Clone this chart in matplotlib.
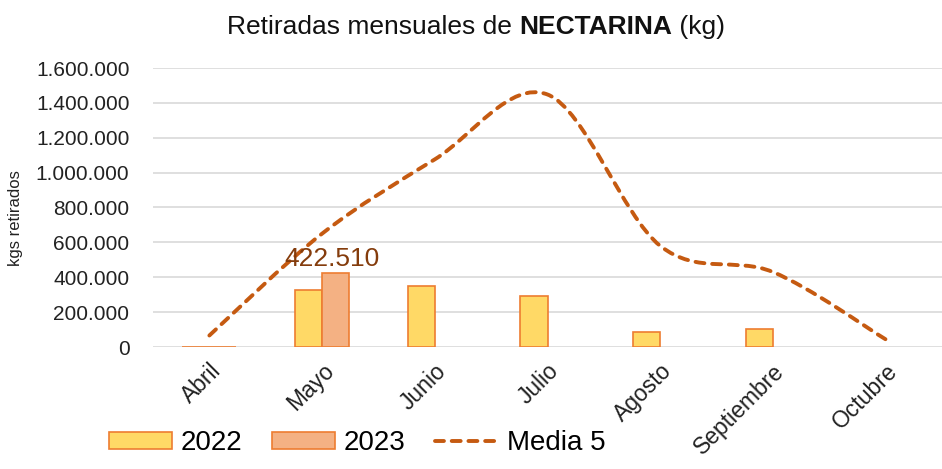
import numpy as np
import matplotlib
matplotlib.use("Agg")
import matplotlib.pyplot as plt
from matplotlib.path import Path
from matplotlib.patches import PathPatch
from matplotlib.lines import Line2D
from matplotlib.patches import Patch
from matplotlib.ticker import FuncFormatter

categories = ["Abril", "Mayo", "Junio", "Julio", "Agosto", "Septiembre", "Octubre"]
v2022 = [2500, 328000, 351000, 293000, 86000, 104000, np.nan]
v2023 = [2000, 422510, np.nan, np.nan, np.nan, np.nan, np.nan]
media5 = [66000, 650000, 1076000, 1448000, 580000, 430000, 44000]
yticks = [0, 200000, 400000, 600000, 800000, 1000000, 1200000, 1400000, 1600000]

C2022_FILL = "#FFD966"
C2023_FILL = "#F4B183"
EDGE = "#ED7D31"
LINE = "#C55A11"
GRID = "#D9D9D9"
LABEL = "#843C0C"
FAM = ["Liberation Sans", "DejaVu Sans"]

fig = plt.figure(figsize=(9.42, 4.69), dpi=100)
ax = fig.add_axes([153 / 942, 1 - 347 / 469, 1 - 153 / 942, (347 - 68) / 469])

x = np.arange(len(categories))
w = 0.24
ax.bar(x - w / 2, v2022, width=w, color=C2022_FILL, edgecolor=EDGE, linewidth=1.2, zorder=3)
ax.bar(x + w / 2, v2023, width=w, color=C2023_FILL, edgecolor=EDGE, linewidth=1.2, zorder=3)

# smoothed line (Bezier through data points, Excel-like)
pts = np.column_stack([x, media5]).astype(float)
n = len(pts)
verts = [tuple(pts[0])]
codes = [Path.MOVETO]
for i in range(n - 1):
    p0 = pts[max(i - 1, 0)]
    p1 = pts[i]
    p2 = pts[i + 1]
    p3 = pts[min(i + 2, n - 1)]
    c1 = p1 + (p2 - p0) / 6
    c2 = p2 - (p3 - p1) / 6
    verts += [tuple(c1), tuple(c2), tuple(p2)]
    codes += [Path.CURVE4] * 3
path = Path(verts, codes)
lw = 2.8
DASH = (0, (2.3, 2.0))
patch = PathPatch(path, fill=False, edgecolor=LINE, linewidth=lw, linestyle=DASH,
                  capstyle="round", zorder=4)
ax.add_patch(patch)

# data label
ax.text(1 + w / 2 - 0.03, 422510 + 12000, "422.510", ha="center", va="bottom", color=LABEL,
        fontsize=19, family=FAM, zorder=5)

ax.set_xlim(-0.5, 6.5)
ax.set_ylim(0, 1600000)
ax.set_yticks(yticks)
ax.yaxis.set_major_formatter(FuncFormatter(lambda v, p: f"{int(v):,}".replace(",", ".")))
ax.grid(axis="y", color=GRID, linewidth=1.2, zorder=0)
ax.set_axisbelow(True)
for s in ax.spines.values():
    s.set_visible(False)
ax.tick_params(axis="both", length=0)
ax.tick_params(axis="y", pad=17, labelsize=15, labelcolor="#222222")
for t in ax.get_yticklabels():
    t.set_family(FAM)
ax.set_xticks(x)
ax.set_xticklabels(categories, rotation=45, ha="right", va="top", rotation_mode="anchor",
                   fontsize=16.5, family=FAM, color="#222222")
ax.tick_params(axis="x", pad=9)

fig.text(16 / 942, 1 - 218 / 469, "kgs retirados", rotation=90, ha="center", va="center",
         fontsize=12, family=FAM, color="#222222")

# title with bold part
parts = [("Retiradas mensuales de ", "normal"), ("NECTARINA", "bold"), (" (kg)", "normal")]
renderer = fig.canvas.get_renderer()
tmp = []
total = 0
for s, wgt in parts:
    t = fig.text(0, 0, s, fontsize=19, fontweight=wgt, family=FAM, color="#111111")
    bb = t.get_window_extent(renderer)
    tmp.append((t, bb.width))
    total += bb.width
cur = 476 - total / 2
for t, wd in tmp:
    t.set_position((cur / 942, 1 - 27 / 469))
    t.set_va("center")
    cur += wd

handles = [Patch(facecolor=C2022_FILL, edgecolor=EDGE, linewidth=1.2),
           Patch(facecolor=C2023_FILL, edgecolor=EDGE, linewidth=1.2),
           Line2D([], [], color=LINE, linewidth=lw, linestyle=DASH, dash_capstyle="round")]
leg = fig.legend(handles, ["2022", "2023", "Media 5"], loc="center", ncol=3,
                 bbox_to_anchor=(357 / 942, 1 - 443 / 469), frameon=False,
                 prop={"family": FAM, "size": 20},
                 handlelength=2.3, handleheight=0.55, handletextpad=0.3, columnspacing=1.05)

fig.savefig("out.png", dpi=100)
